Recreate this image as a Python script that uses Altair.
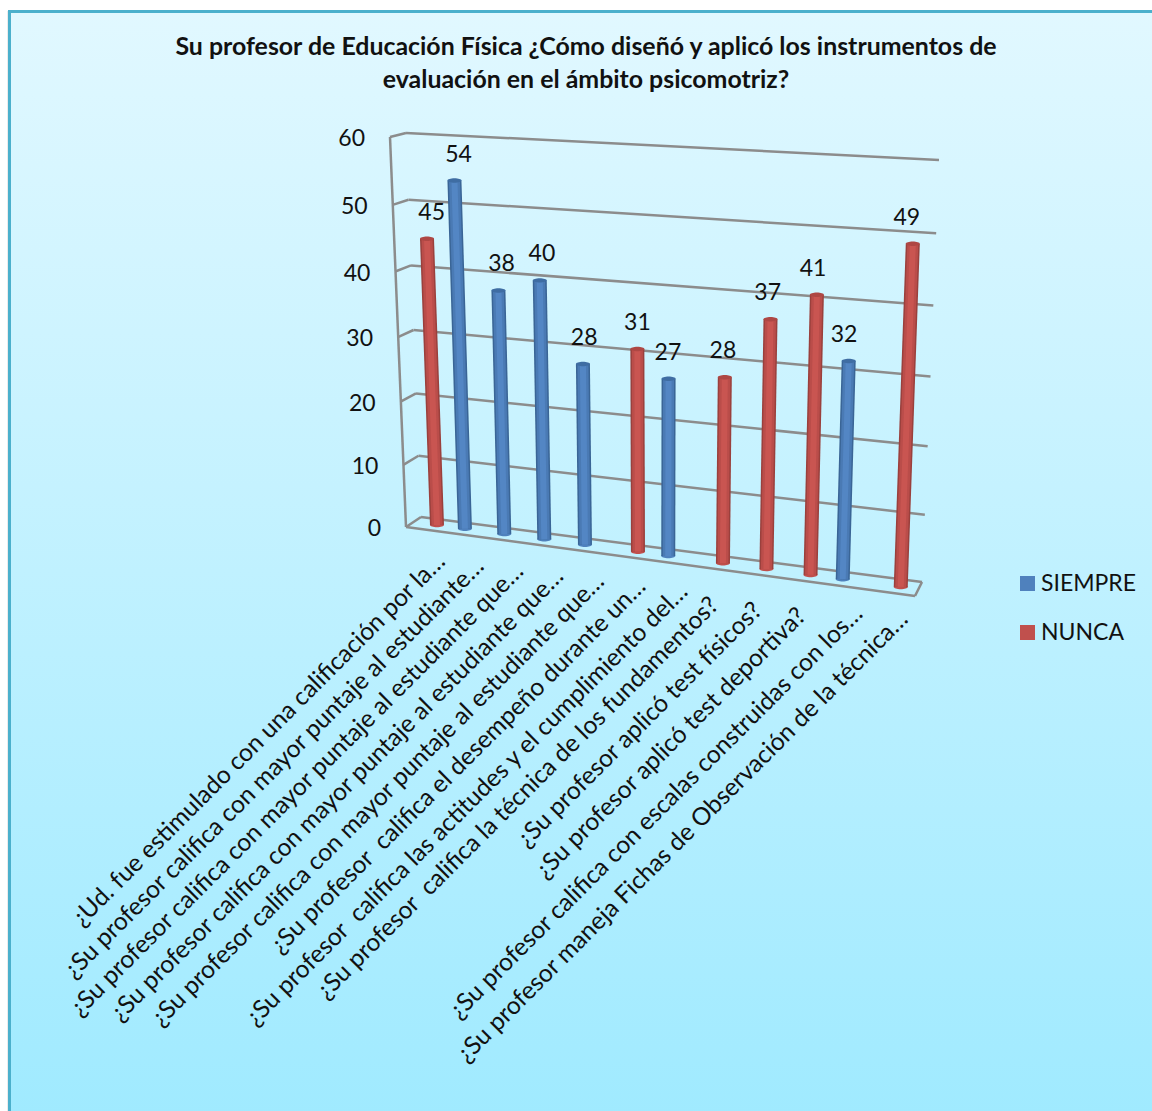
import altair as alt
import pandas as pd

TITLE_LINES = [
    "Su profesor de Educación Física ¿Cómo diseñó y aplicó los instrumentos de",
    "evaluación en el ámbito psicomotriz?",
]
CATEGORIES = [
    "¿Ud. fue estimulado con una calificación por la…",
    "¿Su profesor califica con mayor puntaje al estudiante…",
    "¿Su profesor califica con mayor puntaje al estudiante que…",
    "¿Su profesor califica con mayor puntaje al estudiante que…",
    "¿Su profesor califica con mayor puntaje al estudiante que…",
    "¿Su profesor\u00a0 califica el desempeño durante un…",
    "¿Su profesor\u00a0 califica las actitudes y el cumplimiento del…",
    "¿Su profesor\u00a0 califica la técnica de los fundamentos?",
    "¿Su profesor aplicó test físicos?",
    "¿Su profesor aplicó test deportiva?",
    "¿Su profesor califica con escalas construidas con los…",
    "¿Su profesor maneja Fichas de Observación de la técnica…",
]
SIEMPRE = [None, 54, 38, 40, 28, None, 27, None, None, None, 32, None]
NUNCA = [45, None, None, None, None, 31, None, 28, 37, 41, None, 49]
LEVELS = [0, 10, 20, 30, 40, 50, 60]
SERIES = ["SIEMPRE", "NUNCA"]
SERIES_COLORS = ["#4F81BD", "#C0504D"]
FONT = "Lato"
GRID = "#8C8C8C"

rows = []
for i, cat in enumerate(CATEGORIES):
    for name, vals in (("SIEMPRE", SIEMPRE), ("NUNCA", NUNCA)):
        if vals[i] is not None:
            rows.append({"idx": i, "cat": cat, "serie": name, "value": vals[i]})
bars_df = pd.DataFrame(rows)
levels_df = pd.DataFrame({"level": LEVELS})
cats_df = pd.DataFrame({"idx": list(range(len(CATEGORIES))), "cat": CATEGORIES})

xs = alt.Scale(domain=[0, 1152], range=[0, 1152], nice=False, zero=False)
ys = alt.Scale(domain=[0, 1111], range=[0, 1111], nice=False, zero=False)


def X(f, t="quantitative"):
    return alt.X(f, type=t, scale=xs, axis=None)


def Y(f, t="quantitative"):
    return alt.Y(f, type=t, scale=ys, axis=None)


# Perspective of the 3D box: every expression maps (slot, value) to the page
H = "(1 + 0.00092 * {v}) * {v}"


def wall(base_x, base_y, k, lean, v):
    return (
        f"{base_x} + {lean} * {v}",
        f"{base_y} - {k} * " + H.format(v=v),
    )


def with_box(chart):
    fx0, fy0 = wall(406, 527, 6.16, -0.267, "datum.level")
    bx0, by0 = wall(421, 517, 6.066, -0.25, "datum.level")
    rx0, ry0 = wall(922, 582, 6.667, 0.283, "datum.level")
    return chart.transform_calculate(fx=fx0, fy=fy0, bx=bx0, by=by0, rx=rx0, ry=ry0)


def with_bars(chart):
    return chart.transform_calculate(
        p="datum.idx + (datum.serie == 'SIEMPRE' ? -0.14 : 0.14)"
    ).transform_calculate(
        xb="431.6 + 38.47 * datum.p + 0.327 * datum.p * datum.p"
    ).transform_calculate(
        yb="525 + (datum.xb - 437) * 0.1336",
        k="6.107 + (datum.xb - 437) * 0.00128",
        lean="(datum.xb - 657) * 0.00101",
    ).transform_calculate(
        xt="datum.xb + datum.lean * datum.value",
        yt="datum.yb - datum.k * (1 + 0.00092 * datum.value) * datum.value",
        edge="datum.serie == 'SIEMPRE' ? '#3A6596' : '#9A403D'",
        body="datum.serie == 'SIEMPRE' ? '#4A7AB4' : '#BA4D4A'",
        shine="datum.serie == 'SIEMPRE' ? '#5386C4' : '#C95551'",
        cap="datum.serie == 'SIEMPRE' ? '#3F6DA3' : '#AE4744'",
    )


# Panel background with its frame and a faint shadow
frame_df = pd.DataFrame({"x": [9.5], "x2": [1170], "y": [11.5], "y2": [1130]})
shadow = alt.Chart(pd.DataFrame({"x": [7.5], "x2": [9], "y": [11], "y2": [1130]})).mark_rect(
    color="#D8D8D8"
).encode(x=X("x"), x2="x2", y=Y("y"), y2="y2")
frame = alt.Chart(frame_df).mark_rect(
    color=alt.LinearGradient(
        gradient="linear",
        stops=[
            alt.GradientStop(color="#E1F8FF", offset=0),
            alt.GradientStop(color="#9FEAFF", offset=1),
        ],
        x1=0, x2=0, y1=0, y2=1,
    ),
    stroke="#4BB0CC",
    strokeWidth=3,
).encode(x=X("x"), x2="x2", y=Y("y"), y2="y2")

# Gridlines on the side and back walls
side = with_box(alt.Chart(levels_df)).mark_rule(color=GRID, strokeWidth=2.5).encode(
    x=X("fx"), x2="bx", y=Y("fy"), y2="by"
)
back = with_box(alt.Chart(levels_df)).mark_rule(color=GRID, strokeWidth=2.5).encode(
    x=X("bx"), x2="rx", y=Y("by"), y2="ry"
)
edge_df = pd.DataFrame({
    "x": [406, 406, 915], "x2": [390, 915, 922],
    "y": [527, 527, 596], "y2": [137, 596, 582],
})
edges = alt.Chart(edge_df).mark_rule(color=GRID, strokeWidth=2.5).encode(
    x=X("x"), x2="x2", y=Y("y"), y2="y2"
)
axis_labels = with_box(alt.Chart(levels_df)).transform_calculate(
    lx="datum.fx - 25", ly="datum.fy + 2"
).mark_text(font=FONT, fontSize=23, align="right", baseline="middle", color="#111111").encode(
    x=X("lx"), y=Y("ly"), text="level:Q"
)

# Cylinders: nested rules for the round shading, ellipses for the two ends
ELLIPSE = "M -1 0 A 1 0.32 0 1 0 1 0 A 1 0.32 0 1 0 -1 0 Z"
base_end = with_bars(alt.Chart(bars_df)).mark_point(
    shape=ELLIPSE, filled=True, opacity=1, size=196
).encode(
    x=X("xb"), y=Y("yb"),
    color=alt.Color(
        "serie:N",
        scale=alt.Scale(domain=SERIES, range=SERIES_COLORS),
        legend=alt.Legend(
            title=None, orient="none", legendX=1016, legendY=572,
            symbolType="square", symbolSize=225, symbolStrokeWidth=0,
            labelFont=FONT, labelFontSize=23, labelColor="#111111",
            rowPadding=25, labelOffset=2, symbolOpacity=1,
        ),
    ),
)


def band(field, width):
    return with_bars(alt.Chart(bars_df)).mark_rule(strokeWidth=width).encode(
        x=X("xb"), x2="xt", y=Y("yb"), y2="yt",
        stroke=alt.Stroke(f"{field}:N", scale=None),
    )


top_end = with_bars(alt.Chart(bars_df)).mark_point(
    shape=ELLIPSE, filled=True, opacity=1, size=196
).encode(x=X("xt"), y=Y("yt"), fill=alt.Fill("cap:N", scale=None))

value_labels = with_bars(alt.Chart(bars_df)).transform_calculate(
    lx="datum.xt + (640 - datum.xt) * 0.022", ly="datum.yt - 26"
).mark_text(font=FONT, fontSize=23, align="center", baseline="middle", color="#111111").encode(
    x=X("lx"), y=Y("ly"), text="value:Q"
)

# Slanted category labels, anchored at their right end below the floor;
# labels that were not truncated sit a little lower along the axis
cat_labels = alt.Chart(cats_df).transform_calculate(
    xc="431.6 + 38.47 * datum.idx + 0.327 * datum.idx * datum.idx",
    whole="test(/[?]$/, datum.cat) ? 1 : 0",
).transform_calculate(
    lx="datum.xc + 10 - 12 * datum.whole",
    ly="558 + (datum.xc - 431.6) * 0.125 + 8 * datum.whole",
).mark_text(
    font=FONT, fontSize=24.6, align="right", baseline="middle", angle=315, color="#111111"
).encode(x=X("lx"), y=Y("ly"), text="cat:N")

title_df = pd.DataFrame({"t": TITLE_LINES, "x": [586, 586], "y": [48, 81]})
title = alt.Chart(title_df).mark_text(
    font=FONT, fontSize=24.9, fontWeight="bold", align="center", baseline="middle", color="#111111"
).encode(x=X("x"), y=Y("y"), text="t:N")

chart = alt.layer(
    shadow, frame, side, back, edges, axis_labels,
    base_end,
    band("edge", 14), band("body", 11), band("shine", 6),
    top_end, value_labels, cat_labels, title,
).resolve_scale(color="independent").properties(
    width=1152, height=1111, padding=0, autosize=alt.AutoSizeParams(type="none"),
    background="#FFFFFF",
).configure_view(stroke=None)

chart.save("out.html", embed_options={"renderer": "svg", "actions": False})
